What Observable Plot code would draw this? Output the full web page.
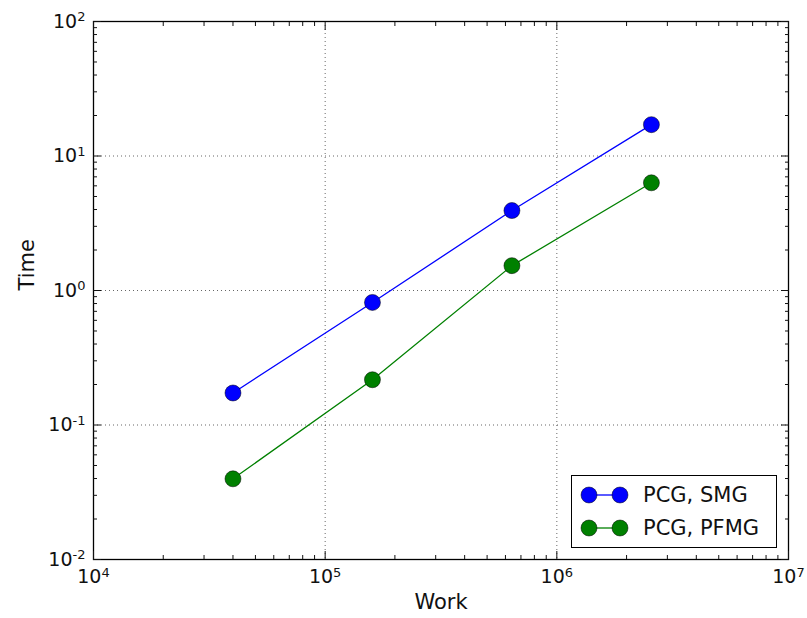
<!DOCTYPE html>
<html><head><meta charset="utf-8">
<script src="https://cdn.jsdelivr.net/npm/d3@7"></script>
<script src="https://cdn.jsdelivr.net/npm/@observablehq/plot@0.6"></script>
<style>
body{margin:0;background:#fff;}
#wrap{position:relative;width:807px;height:618px;font-family:"DejaVu Sans",sans-serif;color:#111;}
#legend{position:absolute;left:571px;top:475px;width:206px;height:73px;border:1px solid #000;background:#fff;box-sizing:border-box;}
.row{position:absolute;left:0;height:20px;}
.row svg{position:absolute;left:0;top:0;}
.row span{position:absolute;left:71px;top:-2px;font-size:21px;white-space:nowrap;line-height:24px;}
</style></head><body><div id="wrap"></div>
<script>
const work = [40000, 160000, 640000, 2560000];
const timeSMG = [0.173, 0.815, 3.93, 17.1];
const timePFMG = [0.0398, 0.217, 1.53, 6.32];
const seriesNames = ["PCG, SMG", "PCG, PFMG"];
const seriesColors = ["#0000ff", "#008000"];
const xMajor = [1e4, 1e5, 1e6, 1e7];
const yMajor = [1e-2, 1e-1, 1e0, 1e1, 1e2];
const xLabel = "Work";
const yLabel = "Time";

const xMinor = [];
for (let e = 4; e < 7; e++) for (let m = 2; m <= 9; m++) xMinor.push(m * 10 ** e);
const yMinor = [];
for (let e = -2; e < 2; e++) for (let m = 2; m <= 9; m++) yMinor.push(m * 10 ** e);

const rows = [];
work.forEach((w, i) => rows.push({work: w, time: timeSMG[i], series: seriesNames[0]}));
work.forEach((w, i) => rows.push({work: w, time: timePFMG[i], series: seriesNames[1]}));

const fmt = d => "10^" + Math.round(Math.log10(d));

const W = 807, H = 618;
const chart = Plot.plot({
  width: W, height: H,
  marginLeft: 93, marginRight: 19, marginTop: 21, marginBottom: 59,
  style: {fontFamily: "DejaVu Sans", fontSize: "19px", color: "#111", background: "#fff"},
  x: {type: "log", domain: [1e4, 1e7]},
  y: {type: "log", domain: [1e-2, 1e2]},
  color: {domain: seriesNames, range: seriesColors},
  marks: [
    Plot.gridX(xMajor.slice(1, -1), {stroke: "#000", strokeOpacity: 0.75, strokeWidth: 0.8, strokeDasharray: "1,3"}),
    Plot.gridY(yMajor.slice(1, -1), {stroke: "#000", strokeOpacity: 0.75, strokeWidth: 0.8, strokeDasharray: "1,3"}),
    Plot.line(rows, {x: "work", y: "time", z: "series", stroke: "series", strokeWidth: 1.3}),
    Plot.dot(rows, {x: "work", y: "time", r: 8, fill: "series", stroke: "#000", strokeWidth: 0.5}),
    Plot.frame({stroke: "#000", strokeWidth: 1.3}),
    Plot.axisX(xMajor, {anchor: "bottom", tickSize: -8, fill: "none", label: null}),
    Plot.axisX(xMajor, {anchor: "top", tickSize: -8, fill: "none", label: null}),
    Plot.axisX(xMinor, {anchor: "bottom", tickSize: -4, fill: "none", label: null}),
    Plot.axisX(xMinor, {anchor: "top", tickSize: -4, fill: "none", label: null}),
    Plot.axisY(yMajor, {anchor: "left", tickSize: -8, fill: "none", label: null}),
    Plot.axisY(yMajor, {anchor: "right", tickSize: -8, fill: "none", label: null}),
    Plot.axisY(yMinor, {anchor: "left", tickSize: -4, fill: "none", label: null}),
    Plot.axisY(yMinor, {anchor: "right", tickSize: -4, fill: "none", label: null}),
    Plot.axisX(xMajor, {anchor: "bottom", tickSize: 0, tickPadding: 10, tickFormat: fmt, label: null, fill: "#111", fontSize: 19}),
    Plot.axisY(yMajor, {anchor: "left", tickSize: 0, tickPadding: 8, tickFormat: fmt, label: null, fill: "#111", fontSize: 19}),
    Plot.text([xLabel], {frameAnchor: "bottom", dy: 49, text: d => d, fontSize: 21, fill: "#111"}),
    Plot.text([yLabel], {frameAnchor: "left", dx: -66, rotate: -90, text: d => d, fontSize: 21, fill: "#111"})
  ]
});

// superscript exponents
d3.select(chart).selectAll("text").each(function() {
  const t = d3.select(this);
  const s = t.text();
  const m = /^10\^(-?\d+)$/.exec(s);
  if (m) {
    t.text("10");
    t.append("tspan").attr("dy", "-0.5em").attr("font-size", 13).text(m[1]);
  }
});

const wrap = document.getElementById("wrap");
wrap.appendChild(chart);

const legend = document.createElement("div");
legend.id = "legend";
seriesNames.forEach((name, i) => {
  const row = document.createElement("div");
  row.className = "row";
  row.style.top = (9 + i * 33) + "px";
  row.style.width = "200px";
  const svg = d3.create("svg").attr("width", 60).attr("height", 20);
  svg.append("line").attr("x1", 17).attr("x2", 48).attr("y1", 10).attr("y2", 10)
    .attr("stroke", seriesColors[i]).attr("stroke-width", 1.3);
  [17, 48].forEach(cx => svg.append("circle").attr("cx", cx).attr("cy", 10).attr("r", 8)
    .attr("fill", seriesColors[i]).attr("stroke", "#000").attr("stroke-width", 0.5));
  row.appendChild(svg.node());
  const sp = document.createElement("span");
  sp.textContent = name;
  row.appendChild(sp);
  legend.appendChild(row);
});
wrap.appendChild(legend);
</script></body></html>
